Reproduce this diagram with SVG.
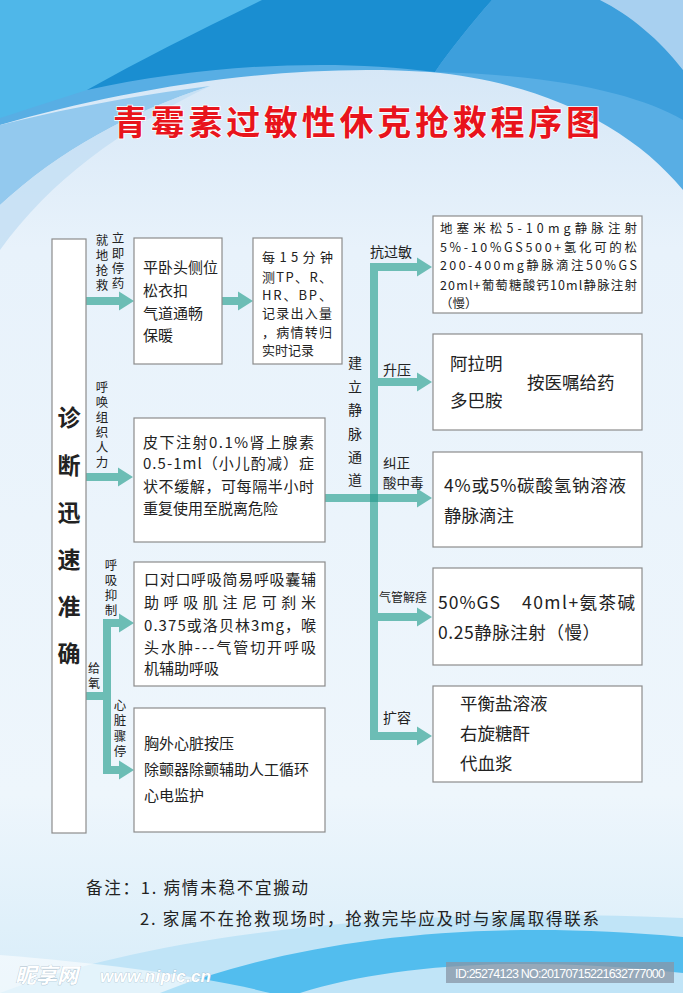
<svg xmlns="http://www.w3.org/2000/svg" width="683" height="993" viewBox="0 0 683 993">
<defs>
<linearGradient id="bg" x1="0" y1="0" x2="0" y2="1">
<stop offset="0" stop-color="#cfe3f5"/>
<stop offset="0.25" stop-color="#e8f2fb"/>
<stop offset="0.8" stop-color="#eef6fc"/>
<stop offset="1" stop-color="#d8edf9"/>
</linearGradient>
<style>
.box{fill:#fff;stroke:#8c8c8c;stroke-width:1.2}
.arr{fill:#6cbdb5}
.t{font-family:"Noto Sans CJK SC","Noto Sans",sans-serif;fill:#222}
.f12{font-size:12.5px}
.f13{font-size:13px}
.f14{font-size:14px}
.f15{font-size:15px}
.f17{font-size:17.5px}
.vl{font-family:"Noto Sans CJK SC","Noto Sans",sans-serif;fill:#222;font-size:12.5px;writing-mode:vertical-rl;letter-spacing:2.5px}
</style>
</defs>
<g id="background">
<rect x="0" y="0" width="683" height="993" fill="url(#bg)"/>
<path d="M0,0 H683 V190 C630,125 540,82 430,72 C280,62 120,90 0,125 Z" fill="#58aee4"/>
<path d="M0,0 H262 C195,35 135,65 87,90 C55,100 25,110 0,118 Z" fill="#4fb7e9"/>
<path d="M262,0 L492,0 C470,25 450,50 435,72 C330,58 200,65 87,90 C140,60 200,30 262,0 Z" fill="#1a8ed1"/>
<path d="M492,0 H600 C640,20 665,45 683,70 V120 C640,95 560,75 435,72 C450,50 470,25 492,0 Z" fill="#3d9fdc"/>
<path d="M600,0 H683 V70 C660,40 630,15 600,0 Z" fill="#a8d0f0"/>
<path d="M0,125 C60,110 130,96 210,86 C130,112 60,150 0,205 Z" fill="#93c9ee"/>
<path d="M0,205 C60,150 130,112 210,86 C120,130 50,180 0,250 Z" fill="#c3def4" opacity="0.8"/>
<path d="M0,993 C150,935 400,905 683,918 V993 Z" fill="#c0e4f7"/>
<path d="M160,993 C300,938 480,918 683,937 V973 C520,955 390,965 300,993 Z" fill="#52bdee"/>
<path d="M0,993 V955 C90,962 200,975 270,993 Z" fill="#ffffff" opacity="0.55"/>
</g>
<text id="title" x="113" y="135" textLength="487" lengthAdjust="spacing" font-family="Noto Sans CJK SC,sans-serif" font-weight="700" font-size="34" fill="#e8141c" stroke="#ffffff" stroke-width="1.5" paint-order="stroke">青霉素过敏性休克抢救程序图</text>

<g id="connectors">
<polygon class="arr" points="86,297 119,297 119,291.5 134,301 119,310.5 119,305 86,305"/>
<polygon class="arr" points="222,297 238,297 238,291.5 253,301 238,310.5 238,305 222,305"/>
<polygon class="arr" points="86,473 118,473 118,467.5 133,477 118,486.5 118,481 86,481"/>
<polygon class="arr" points="325,494 417,494 417,488.5 432,498 417,507.5 417,502 325,502"/>
<rect class="arr" x="370" y="263" width="8" height="477"/>
<polygon class="arr" points="370,263 417,263 417,257.5 432,267 417,276.5 417,271 370,271"/>
<polygon class="arr" points="370,378 417,378 417,372.5 432,382 417,391.5 417,386 370,386"/>
<polygon class="arr" points="370,613 417,613 417,607.5 432,617 417,626.5 417,621 370,621"/>
<polygon class="arr" points="370,732 417,732 417,726.5 432,736 417,745.5 417,740 370,740"/>
<rect x="370" y="494" width="8" height="8" fill="#3da69a"/>
<rect class="arr" x="86" y="692" width="25" height="8"/>
<rect class="arr" x="103" y="619" width="8" height="155"/>
<polygon class="arr" points="103,619 119,619 119,613.5 134,623 119,632.5 119,627 103,627"/>
<polygon class="arr" points="103,766 119,766 119,760.5 134,770 119,779.5 119,774 103,774"/>
<g id="connector-labels">
<text class="vl" x="102" y="233.5">就地抢救</text>
<text class="vl" x="118" y="231.5">立即停药</text>
<text class="vl" x="102" y="380.5">呼唤组织人力</text>
<text class="vl" x="94" y="662" style="font-size:12px;letter-spacing:3px">给氧</text>
<text class="vl" x="111" y="558.5">呼吸抑制</text>
<text class="vl" x="120" y="698.5" style="letter-spacing:3px">心脏骤停</text>
<text class="vl" x="355" y="356" style="font-size:14px;letter-spacing:9.4px">建立静脉通道</text>
<text class="t f14" x="370" y="257">抗过敏</text>
<text class="t f14" x="383" y="375">升压</text>
<text class="t" font-size="13.5" x="383" y="468">纠正</text>
<text class="t" font-size="13.5" x="383" y="488">酸中毒</text>
<text class="t" x="379" y="602" font-size="12">气管解痉</text>
<text class="t f14" x="383" y="723">扩容</text>
</g>
</g>

<g id="node-diagnosis">
<rect class="box" x="52" y="239" width="34" height="594"/>
<text class="t" font-size="23" font-weight="700" text-anchor="middle"><tspan x="69" y="426">诊</tspan><tspan x="69" y="474">断</tspan><tspan x="69" y="521">迅</tspan><tspan x="69" y="568">速</tspan><tspan x="69" y="615">准</tspan><tspan x="69" y="662">确</tspan></text>
</g>

<g id="node-position">
<rect class="box" x="134" y="238" width="88" height="126"/>
<text class="t f15" x="143" y="272.7">平卧头侧位</text>
<text class="t f15" x="143" y="295.7">松衣扣</text>
<text class="t f15" x="143" y="318.7">气道通畅</text>
<text class="t f15" x="143" y="340.7">保暖</text>
</g>

<g id="node-monitor">
<rect class="box" x="253" y="238" width="89" height="126"/>
<text class="t f13" x="262" y="262" textLength="71" lengthAdjust="spacing">每15分钟</text>
<text class="t f13" x="262" y="282" textLength="70" lengthAdjust="spacing">测TP、R、</text>
<text class="t f13" x="262" y="300" textLength="70" lengthAdjust="spacing">HR、BP、</text>
<text class="t f13" x="262" y="318" textLength="70" lengthAdjust="spacing">记录出入量</text>
<text class="t f13" x="262" y="337" textLength="70" lengthAdjust="spacing">，病情转归</text>
<text class="t f13" x="262" y="355">实时记录</text>
</g>

<g id="node-adrenaline">
<rect class="box" x="134" y="418" width="191" height="124"/>
<text class="t f15" x="143" y="447.7" textLength="171" lengthAdjust="spacing">皮下注射0.1%肾上腺素</text>
<text class="t f15" x="143" y="468.7" textLength="171" lengthAdjust="spacing">0.5-1ml（小儿酌减）症</text>
<text class="t f15" x="143" y="491.7" textLength="171" lengthAdjust="spacing">状不缓解，可每隔半小时</text>
<text class="t f15" x="143" y="513.7">重复使用至脱离危险</text>
</g>

<g id="node-respiration">
<rect class="box" x="134" y="562" width="191" height="124"/>
<text class="t f15" x="144" y="584.7" textLength="172" lengthAdjust="spacing">口对口呼吸简易呼吸囊辅</text>
<text class="t f15" x="144" y="607.7" textLength="172" lengthAdjust="spacing">助呼吸肌注尼可刹米</text>
<text class="t f15" x="144" y="630.7" textLength="172" lengthAdjust="spacing">0.375或洛贝林3mg，喉</text>
<text class="t f15" x="144" y="652.7" textLength="172" lengthAdjust="spacing">头水肿---气管切开呼吸</text>
<text class="t f15" x="144" y="673.7">机辅助呼吸</text>
</g>

<g id="node-cardiac">
<rect class="box" x="134" y="708" width="191" height="124"/>
<text class="t f15" x="144" y="748.7">胸外心脏按压</text>
<text class="t f15" x="144" y="774.7">除颤器除颤辅助人工循环</text>
<text class="t f15" x="144" y="800.7">心电监护</text>
</g>

<g id="node-antiallergy">
<rect class="box" x="433" y="216" width="209" height="97"/>
<text class="t f12" x="440" y="232.7" textLength="197" lengthAdjust="spacing">地塞米松5-10mg静脉注射</text>
<text class="t f12" x="440" y="251.7" textLength="197" lengthAdjust="spacing">5%-10%GS500+氢化可的松</text>
<text class="t f12" x="440" y="269.7" textLength="197" lengthAdjust="spacing">200-400mg静脉滴注50%GS</text>
<text class="t f12" x="440" y="289.7" textLength="197" lengthAdjust="spacing">20ml+葡萄糖酸钙10ml静脉注射</text>
<text class="t f12" x="440" y="307.7">（慢）</text>
</g>

<g id="node-pressor">
<rect class="box" x="433" y="334" width="209" height="96"/>
<text class="t f17" x="450" y="369.5">阿拉明</text>
<text class="t f17" x="450" y="406.5">多巴胺</text>
<text class="t f17" x="527" y="388.5">按医嘱给药</text>
</g>

<g id="node-acidosis">
<rect class="box" x="433" y="452" width="209" height="95"/>
<text class="t f17" x="444" y="491.7" textLength="182" lengthAdjust="spacing">4%或5%碳酸氢钠溶液</text>
<text class="t f17" x="444" y="521.7">静脉滴注</text>
</g>

<g id="node-bronchospasm">
<rect class="box" x="433" y="568" width="209" height="97"/>
<text class="t f17" x="438" y="608.7" textLength="62" lengthAdjust="spacing">50%GS</text>
<text class="t f17" x="522" y="608.7" textLength="113" lengthAdjust="spacing">40ml+氨茶碱</text>
<text class="t f17" x="438" y="638.7" textLength="162" lengthAdjust="spacing">0.25静脉注射（慢）</text>
</g>

<g id="node-volume">
<rect class="box" x="433" y="686" width="209" height="96"/>
<text class="t f17" x="460" y="709.7">平衡盐溶液</text>
<text class="t f17" x="460" y="739.7">右旋糖酐</text>
<text class="t f17" x="460" y="769.7">代血浆</text>
</g>

<g id="notes">
<text class="t" font-size="16.5" x="86" y="894" textLength="222" lengthAdjust="spacing">备注：1. 病情未稳不宜搬动</text>
<text class="t" font-size="16.5" x="140" y="925" textLength="459" lengthAdjust="spacing">2. 家属不在抢救现场时，抢救完毕应及时与家属取得联系</text>
</g>

<g id="watermark">
<text x="15" y="983" font-family="Noto Sans CJK SC,sans-serif" font-size="21" font-weight="700" font-style="italic" fill="#ffffff" stroke="#9fb8c8" stroke-width="0.6" paint-order="stroke">昵享网</text>
<text x="100" y="982" font-family="Liberation Sans,sans-serif" font-size="17" font-weight="700" font-style="italic" fill="#ffffff" stroke="#9fb8c8" stroke-width="0.6" paint-order="stroke" textLength="111" lengthAdjust="spacing">www.nipic.cn</text>
<rect x="446" y="962" width="228" height="21" fill="#8896a6" opacity="0.75"/>
<text x="455" y="977.5" font-family="Liberation Sans,sans-serif" font-size="12.5" fill="#ffffff" textLength="210" lengthAdjust="spacing">ID:25274123 NO:20170715221632777000</text>
</g>
</svg>
